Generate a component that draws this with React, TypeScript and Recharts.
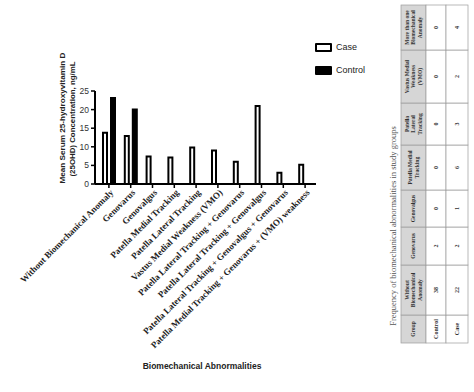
import React from "react";
import { Bar, BarChart, Legend, XAxis, YAxis } from "recharts";

const categories = [
  "Without Biomechanical Anomaly",
  "Genovarus",
  "Genovalgus",
  "Patella Medial Tracking",
  "Patella Lateral Tracking",
  "Vastus Medial Weakness (VMO)",
  "Patella Lateral Tracking + Genovarus",
  "Patella Lateral Tracking + Genovalgus",
  "Patella Lateral Tracking + Genovalgus + Genovarus",
  "Patella Medial Tracking + Genovarus + (VMO) weakness",
];
const caseValues = [13.8, 12.9, 7.4, 7.1, 9.8, 9.0, 6.0, 21.0, 3.0, 5.2];
const controlValues: (number | null)[] = [23.1, 20.0, null, null, null, null, null, null, null, null];
const yTicks = [0, 5, 10, 15, 20, 25];

// table (printed rotated in the figure)
const tableHeaders = [
  ["Group"],
  ["Without", "Biomechanical", "Anomaly"],
  ["Genovarus"],
  ["Genovalgus"],
  ["Patella Medial", "Tracking"],
  ["Patella", "Lateral", "Tracking"],
  ["Vastus Medial", "Weakness", "(VMO)"],
  ["More than one", "Biomechanical", "Anomaly"],
];
const tableControl = ["Control", "38", "2", "0", "0", "0", "0", "0"];
const tableCase = ["Case", "22", "2", "1", "6", "3", "2", "4"];
const caption = "Frequency of biomechanical abnormalities in study groups";

const data = categories.map((name, i) => ({
  name,
  case: caseValues[i],
  control: controlValues[i],
}));

const sans = "'Liberation Sans', Arial, sans-serif";
const serif = "'Liberation Serif', 'DejaVu Serif', serif";

function CategoryTick({ x, y, payload }: any) {
  return (
    <g transform={`translate(${x + 3},${y + 1})`}>
      <text
        x={0}
        y={0}
        dy={3}
        textAnchor="end"
        transform="rotate(-45)"
        fontFamily={serif}
        fontWeight="bold"
        fontSize={9}
        fill="#222"
      >
        {payload.value}
      </text>
    </g>
  );
}

function LegendBox() {
  const items = [
    { label: "Case", fill: "#fff" },
    { label: "Control", fill: "#000" },
  ];
  return (
    <div style={{ fontFamily: sans, fontSize: 9, color: "#222" }}>
      {items.map((it) => (
        <div key={it.label} style={{ display: "flex", alignItems: "center", height: 12, marginBottom: 11 }}>
          <span
            style={{
              display: "inline-block",
              width: 13,
              height: 5,
              border: "2px solid #000",
              borderRadius: 1,
              background: it.fill,
              marginRight: 4,
            }}
          />
          {it.label}
        </div>
      ))}
    </div>
  );
}

// row boundaries of the rotated table, top to bottom (last column first)
const colEdges = [343, 315, 265, 227, 190, 145, 103, 50, 5];
const xEdges = [401, 426, 446, 468];

function RotatedTable() {
  const cells: React.ReactNode[] = [];
  tableHeaders.forEach((lines, i) => {
    const y1 = colEdges[i + 1];
    const y0 = colEdges[i];
    const cy = (y0 + y1) / 2;
    const cols = [lines, [tableControl[i]], [tableCase[i]]];
    cols.forEach((txt, j) => {
      const x0 = xEdges[j];
      const x1 = xEdges[j + 1];
      const cx = (x0 + x1) / 2;
      const fs = j === 0 ? 5.5 : 6;
      const n = txt.length;
      cells.push(
        <g key={`${i}-${j}`}>
          <rect
            x={x0}
            y={y1}
            width={x1 - x0}
            height={y0 - y1}
            fill={j === 0 ? "#d6d6d6" : "#fff"}
            stroke="#9c9c9c"
            strokeWidth={0.7}
          />
          <text
            transform={`translate(${cx},${cy}) rotate(-90)`}
            textAnchor="middle"
            fontFamily={serif}
            fontWeight="bold"
            fontSize={fs}
            fill="#333"
          >
            {txt.map((t, k) => (
              <tspan key={k} x={0} y={(k - (n - 1) / 2) * (fs + 0.8) + fs * 0.35}>
                {t}
              </tspan>
            ))}
          </text>
        </g>
      );
    });
  });
  return <g>{cells}</g>;
}

export default function App() {
  return (
    <div style={{ position: "absolute", left: 0, top: 0, width: 474, height: 392, background: "#fff" }}>
      <BarChart
        width={474}
        height={392}
        data={data}
        margin={{ top: 45, right: 158, left: 65, bottom: 0 }}
        barSize={4}
        barGap={4}
      >
        <XAxis
          dataKey="name"
          interval={0}
          height={208}
          padding={{ left: 3, right: 0 }}
          axisLine={{ stroke: "#000", strokeWidth: 2 }}
          tickLine={{ stroke: "#000", strokeWidth: 1.5 }}
          tickSize={4}
          tick={<CategoryTick />}
        />
        <YAxis
          width={30}
          domain={[0, 25]}
          ticks={yTicks}
          interval={0}
          axisLine={{ stroke: "#000", strokeWidth: 2 }}
          tickLine={{ stroke: "#000", strokeWidth: 1.5 }}
          tickSize={4}
          tick={{ fontSize: 8.5, fill: "#333", fontFamily: sans }}
        />
        <Legend
          verticalAlign="top"
          align="left"
          content={<LegendBox />}
          wrapperStyle={{ position: "absolute", left: 315, top: 41, width: 80 }}
        />
        <Bar dataKey="case" name="Case" fill="#fff" stroke="#000" strokeWidth={2} isAnimationActive={false} />
        <Bar dataKey="control" name="Control" fill="#000" stroke="#000" strokeWidth={2} isAnimationActive={false} />
      </BarChart>
      <svg width={474} height={392} style={{ position: "absolute", left: 0, top: 0, pointerEvents: "none" }}>
        <text
          transform="translate(65,118) rotate(-90)"
          textAnchor="middle"
          fontFamily={sans}
          fontWeight="bold"
          fontSize={8}
          fill="#222"
        >
          <tspan x={0} y={0} textLength={131} lengthAdjust="spacingAndGlyphs">
            Mean Serum 25-hydroxyvitamin D
          </tspan>
          <tspan x={-1} y={10} textLength={115} lengthAdjust="spacingAndGlyphs">
            (25OHD) Concentration, ng/mL
          </tspan>
        </text>
        <text x={202} y={369} textAnchor="middle" fontFamily={sans} fontWeight="bold" fontSize={8.5} fill="#222">
          Biomechanical Abnormalities
        </text>
        <text
          transform="translate(396,226) rotate(-90)"
          textAnchor="middle"
          fontFamily={serif}
          fontSize={8.5}
          fill="#555"
        >
          {caption}
        </text>
        <RotatedTable />
      </svg>
    </div>
  );
}
